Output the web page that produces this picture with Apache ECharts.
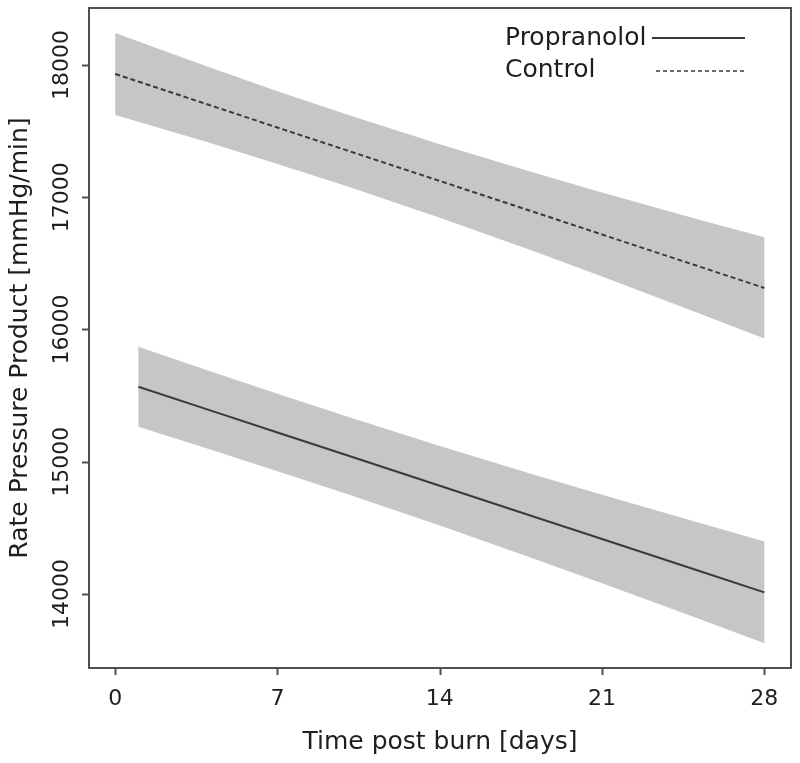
<!DOCTYPE html>
<html>
<head>
<meta charset="utf-8">
<script src="https://cdn.jsdelivr.net/npm/echarts@6/dist/echarts.min.js"></script>
<style>
html,body{margin:0;padding:0;background:#fff;}
#chart{width:800px;height:763px;}
</style>
</head>
<body>
<div id="chart"></div>
<script>
// ---- data ----
var xTicks = [0, 7, 14, 21, 28];
var yTicks = [14000, 15000, 16000, 17000, 18000];

var controlDays  = [0, 4, 7, 10, 14, 18, 21, 25, 28];
var controlMean  = [17932, 17701, 17527, 17354, 17123, 16892, 16718, 16487, 16314];
var controlUpper = [18242, 17987, 17802, 17625, 17401, 17189, 17036, 16840, 16697];
var controlLower = [17622, 17415, 17252, 17083, 16845, 16595, 16400, 16134, 15931];

var propDays  = [1, 4, 7, 10, 14, 18, 21, 25, 28];
var propMean  = [15567, 15394, 15221, 15049, 14818, 14588, 14415, 14185, 14012];
var propUpper = [15870, 15690, 15514, 15342, 15118, 14906, 14750, 14547, 14397];
var propLower = [15264, 15098, 14928, 14756, 14518, 14270, 14080, 13823, 13627];

var seriesNames = ['Propranolol', 'Control'];
var xTitle = 'Time post burn [days]';
var yTitle = 'Rate Pressure Product [mmHg/min]';

// ---- chart ----
var FONT = 'DejaVu Sans';
var LINE = '#3a3a3a';
var BAND = '#c6c6c6';
var TXT = '#1e1e1e';
var FRAME = '#505050';
var TICK_LEN = 7;
var X_MIN = -1.13, X_MAX = 29.15, Y_MIN = 13440, Y_MAX = 18431;

function pairs(xs, ys) { return xs.map(function (x, i) { return [x, ys[i]]; }); }

function bandSeries(days, upper, lower) {
  return {
    type: 'custom',
    silent: true,
    z: 1,
    data: [0],
    renderItem: function (params, api) {
      var pts = [];
      for (var i = 0; i < days.length; i++) pts.push(api.coord([days[i], upper[i]]));
      for (var j = days.length - 1; j >= 0; j--) pts.push(api.coord([days[j], lower[j]]));
      return { type: 'polygon', shape: { points: pts }, style: { fill: BAND } };
    }
  };
}

function frameAxis(pos, min, max) {
  return {
    type: 'value', position: pos, min: min, max: max,
    axisLine: { show: true, onZero: false, lineStyle: { color: FRAME, width: 2 } },
    axisTick: { show: false }, axisLabel: { show: false }, splitLine: { show: false }
  };
}

var legendGraphics = [
  { type: 'text', style: { x: 505, y: 38, text: seriesNames[0], font: '25px "' + FONT + '"', fill: TXT, verticalAlign: 'middle' } },
  { type: 'line', shape: { x1: 652, y1: 38, x2: 745, y2: 38 }, style: { stroke: LINE, lineWidth: 2 } },
  { type: 'text', style: { x: 505, y: 70, text: seriesNames[1], font: '25px "' + FONT + '"', fill: TXT, verticalAlign: 'middle' } },
  { type: 'line', shape: { x1: 656, y1: 71, x2: 745, y2: 71 }, style: { stroke: LINE, lineWidth: 1.5, lineDash: [4, 3] } }
];

var chart = echarts.init(document.getElementById('chart'), null, { renderer: 'canvas' });
chart.setOption({
  animation: false,
  backgroundColor: '#fff',
  textStyle: { fontFamily: FONT },
  grid: { left: 88, right: 9, top: 8, bottom: 95 },
  xAxis: [{
    type: 'value', position: 'bottom', min: X_MIN, max: X_MAX,
    axisLine: { show: true, onZero: false, lineStyle: { color: FRAME, width: 2 } },
    splitLine: { show: false },
    axisTick: { show: false },
    axisLabel: { customValues: xTicks, color: TXT, fontSize: 22, fontFamily: FONT, margin: 20 },
    name: xTitle, nameLocation: 'middle', nameGap: 62,
    nameTextStyle: { color: TXT, fontSize: 25, fontFamily: FONT }
  }, frameAxis('top', X_MIN, X_MAX)],
  yAxis: [{
    type: 'value', position: 'left', min: Y_MIN, max: Y_MAX,
    axisLine: { show: true, onZero: false, lineStyle: { color: FRAME, width: 2 } },
    splitLine: { show: false },
    axisTick: { show: false },
    axisLabel: { customValues: yTicks, rotate: 90, color: TXT, fontSize: 22, fontFamily: FONT, margin: 16,
                 formatter: function (v) { return String(v); } },
    name: yTitle, nameLocation: 'middle', nameGap: 56, nameRotate: 90,
    nameTextStyle: { color: TXT, fontSize: 25, fontFamily: FONT }
  }, frameAxis('right', Y_MIN, Y_MAX)],
  series: [
    bandSeries(controlDays, controlUpper, controlLower),
    bandSeries(propDays, propUpper, propLower),
    {
      name: seriesNames[1], type: 'line', z: 3, symbol: 'none', silent: true,
      data: pairs(controlDays, controlMean),
      lineStyle: { color: LINE, width: 2, type: [5, 3] }
    },
    {
      name: seriesNames[0], type: 'line', z: 3, symbol: 'none', silent: true,
      data: pairs(propDays, propMean),
      lineStyle: { color: LINE, width: 2 }
    }
  ],
  graphic: legendGraphics
});

// outward tick marks, positioned through the chart's own scales
var tickGraphics = [];
xTicks.forEach(function (v) {
  var p = chart.convertToPixel({ gridIndex: 0 }, [v, Y_MIN]);
  tickGraphics.push({ type: 'line', z: 100, shape: { x1: Math.round(p[0]) + 0.5, y1: p[1], x2: Math.round(p[0]) + 0.5, y2: p[1] + TICK_LEN },
                      style: { stroke: FRAME, lineWidth: 2 } });
});
yTicks.forEach(function (v) {
  var p = chart.convertToPixel({ gridIndex: 0 }, [X_MIN, v]);
  tickGraphics.push({ type: 'line', z: 100, shape: { x1: p[0] - TICK_LEN, y1: Math.round(p[1]) + 0.5, x2: p[0], y2: Math.round(p[1]) + 0.5 },
                      style: { stroke: FRAME, lineWidth: 2 } });
});
chart.setOption({ graphic: legendGraphics.concat(tickGraphics) });
</script>
</body>
</html>
